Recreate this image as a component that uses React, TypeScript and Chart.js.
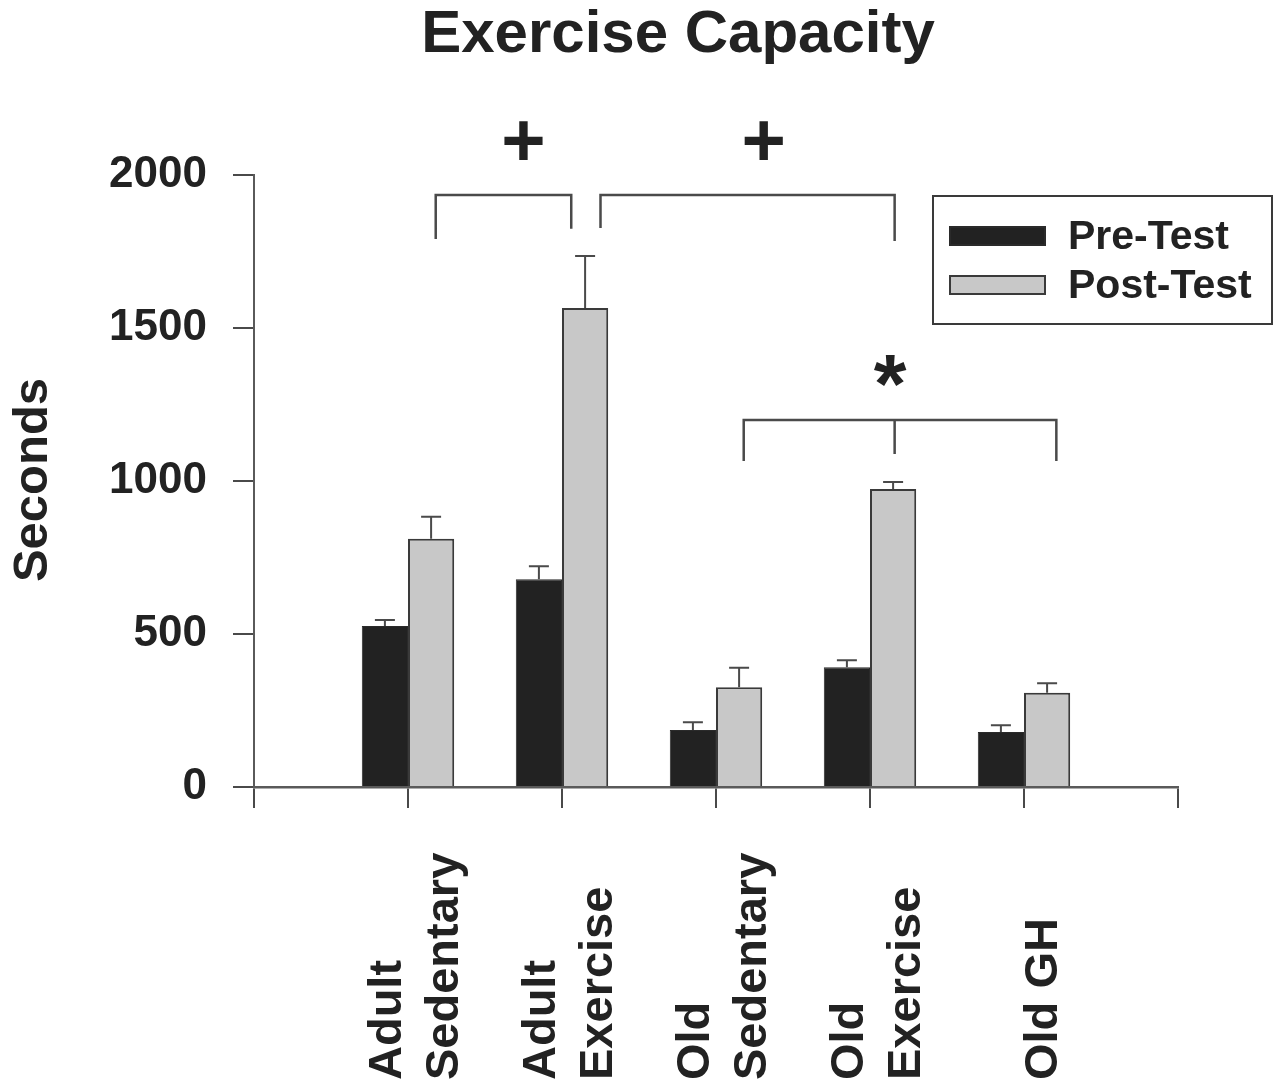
import React, { useEffect, useRef } from 'react';
import { Chart, registerables } from 'chart.js';

Chart.register(...registerables);

// ---- data ----
const categoryLabels: string[][] = [
  ['Adult', 'Sedentary'],
  ['Adult', 'Exercise'],
  ['Old', 'Sedentary'],
  ['Old', 'Exercise'],
  ['Old GH'],
];
const categoryPositions = [1, 2, 3, 4, 5];
const preTest = [526, 679, 186, 391, 180];
const preTestErr = [20, 42, 26, 23, 22];
const postTest = [811, 1565, 326, 974, 308];
const postTestErr = [72, 170, 64, 23, 31];
const yTickValues = [0, 500, 1000, 1500, 2000];
const yTickLabels = ['0', '500', '1000', '1500', '2000'];

// significance brackets (x in category units, y in seconds)
const brackets = [
  { x1: 1.18, x2: 2.06, top: 1935, y1: 1791, y2: 1824 },
  { x1: 2.25, x2: 4.16, top: 1935, y1: 1827, y2: 1784 },
];
const tripleBracket = { x1: 3.18, xm: 4.16, x2: 5.21, top: 1199, yEnd: 1065, yMid: 1088 };
const markers = [
  { text: '+', x: 1.75, y: 2114 },
  { text: '+', x: 3.31, y: 2114 },
  { text: '*', x: 4.13, y: 1359 },
];

const FONT = "'Liberation Sans', Arial, Helvetica, sans-serif";
const INK = '#222222';
const LINE = '#4a4a4a';

function centeredGlyph(ctx: CanvasRenderingContext2D, t: string, x: number, y: number) {
  const m = ctx.measureText(t);
  const asc = m.actualBoundingBoxAscent;
  const desc = m.actualBoundingBoxDescent;
  ctx.textAlign = 'center';
  ctx.textBaseline = 'alphabetic';
  ctx.fillText(t, x, y + (asc - desc) / 2);
}

const decorPlugin = {
  id: 'decor',
  afterDatasetsDraw(chart: any) {
    const ctx: CanvasRenderingContext2D = chart.ctx;
    const ys = chart.scales.y;
    const errs = [preTestErr, postTestErr];
    const vals = [preTest, postTest];
    ctx.save();
    ctx.strokeStyle = LINE;
    ctx.lineWidth = 2;
    chart.data.datasets.forEach((ds: any, di: number) => {
      const meta = chart.getDatasetMeta(di);
      meta.data.forEach((bar: any, i: number) => {
        const top = ys.getPixelForValue(vals[di][i] + errs[di][i]);
        ctx.beginPath();
        ctx.moveTo(bar.x, bar.y);
        ctx.lineTo(bar.x, top);
        ctx.moveTo(bar.x - 10, top);
        ctx.lineTo(bar.x + 10, top);
        ctx.stroke();
      });
    });
    ctx.restore();
  },
  afterDraw(chart: any) {
    const ctx: CanvasRenderingContext2D = chart.ctx;
    const xs = chart.scales.x;
    const ys = chart.scales.y;
    const px = (v: number) => xs.getPixelForValue(v);
    const py = (v: number) => ys.getPixelForValue(v);
    ctx.save();

    // title
    ctx.fillStyle = INK;
    ctx.font = `bold 60px ${FONT}`;
    ctx.textAlign = 'center';
    ctx.textBaseline = 'alphabetic';
    ctx.fillText('Exercise Capacity', 678, 52);

    // y axis title
    ctx.save();
    ctx.translate(47, 480);
    ctx.rotate(-Math.PI / 2);
    ctx.font = `bold 49px ${FONT}`;
    ctx.textAlign = 'center';
    ctx.textBaseline = 'alphabetic';
    ctx.fillText('Seconds', 0, 0);
    ctx.restore();

    // x category labels (rotated, reading bottom-to-top)
    ctx.font = `bold 47px ${FONT}`;
    categoryLabels.forEach((lines, i) => {
      const tx = px(categoryPositions[i]);
      const offs = lines.length === 2 ? [-7, 50] : [33];
      lines.forEach((ln, li) => {
        ctx.save();
        ctx.translate(tx + offs[li], 1080);
        ctx.rotate(-Math.PI / 2);
        ctx.textAlign = 'left';
        ctx.textBaseline = 'alphabetic';
        ctx.fillText(ln, 0, 0);
        ctx.restore();
      });
    });

    // brackets
    ctx.strokeStyle = LINE;
    ctx.lineWidth = 2.5;
    brackets.forEach((b) => {
      ctx.beginPath();
      ctx.moveTo(px(b.x1), py(b.y1));
      ctx.lineTo(px(b.x1), py(b.top));
      ctx.lineTo(px(b.x2), py(b.top));
      ctx.lineTo(px(b.x2), py(b.y2));
      ctx.stroke();
    });
    const t = tripleBracket;
    ctx.beginPath();
    ctx.moveTo(px(t.x1), py(t.yEnd));
    ctx.lineTo(px(t.x1), py(t.top));
    ctx.lineTo(px(t.x2), py(t.top));
    ctx.lineTo(px(t.x2), py(t.yEnd));
    ctx.moveTo(px(t.xm), py(t.top));
    ctx.lineTo(px(t.xm), py(t.yMid));
    ctx.stroke();

    // markers
    ctx.fillStyle = INK;
    markers.forEach((m) => {
      if (m.text === '+') {
        ctx.font = `bold 76px ${FONT}`;
      } else {
        ctx.font = `bold 84px ${FONT}`;
      }
      centeredGlyph(ctx, m.text, px(m.x), py(m.y));
    });

    // legend
    const lx = 933, ly = 196, lw = 339, lh = 128;
    ctx.strokeStyle = '#3a3a3a';
    ctx.lineWidth = 2;
    ctx.strokeRect(lx, ly, lw, lh);
    ctx.font = `bold 41px ${FONT}`;
    ctx.textAlign = 'left';
    ctx.textBaseline = 'alphabetic';
    chart.data.datasets.forEach((ds: any, di: number) => {
      const sy = 227 + di * 49;
      ctx.fillStyle = ds.backgroundColor;
      ctx.fillRect(950, sy, 95, 18);
      ctx.strokeStyle = ds.borderColor;
      ctx.lineWidth = 2;
      ctx.strokeRect(950, sy, 95, 18);
      ctx.fillStyle = INK;
      ctx.fillText(ds.label, 1068, 249 + di * 49);
    });

    ctx.restore();
  },
};

export default function App() {
  const ref = useRef<HTMLCanvasElement | null>(null);
  useEffect(() => {
    document.body.style.margin = '0';
    const canvas = ref.current;
    if (!canvas) return;
    const chart = new Chart(canvas, {
      type: 'bar',
      data: {
        datasets: [
          {
            label: 'Pre-Test',
            data: categoryPositions.map((p, i) => ({ x: p, y: preTest[i] })),
            backgroundColor: '#222222',
            borderColor: '#2a2a2a',
            borderWidth: 1,
          },
          {
            label: 'Post-Test',
            data: categoryPositions.map((p, i) => ({ x: p, y: postTest[i] })),
            backgroundColor: '#c8c8c8',
            borderColor: '#3a3a3a',
            borderWidth: 2,
          },
        ],
      } as any,
      options: {
        animation: false,
        responsive: false,
        maintainAspectRatio: false,
        layout: { padding: { top: 175, right: 99, left: 0, bottom: 0 } },
        datasets: { bar: { categoryPercentage: 0.6, barPercentage: 1.0 } },
        plugins: { legend: { display: false }, title: { display: false }, tooltip: { enabled: false } },
        scales: {
          x: {
            type: 'linear',
            min: 0,
            max: 6,
            offset: false,
            ticks: { stepSize: 1, display: false },
            grid: { offset: false, drawOnChartArea: false, drawTicks: true, tickLength: 21, color: LINE, lineWidth: 2 },
            border: { display: true, color: '#5a5a5a', width: 2.5 },
            afterFit: (s: any) => { s.height = 297; },
          },
          y: {
            type: 'linear',
            min: 0,
            max: 2000,
            afterBuildTicks: (s: any) => { s.ticks = yTickValues.map((v) => ({ value: v })); },
            ticks: {
              color: INK,
              padding: 26,
              font: { size: 44, weight: 'bold', family: FONT },
              callback: (v: any) => {
                const idx = yTickValues.indexOf(Number(v));
                return idx >= 0 ? yTickLabels[idx] : String(v);
              },
            },
            grid: { drawOnChartArea: false, drawTicks: true, tickLength: 21, color: LINE, lineWidth: 2 },
            border: { display: true, color: '#5a5a5a', width: 2 },
            afterFit: (s: any) => { s.width = 254; },
          },
        },
      } as any,
      plugins: [decorPlugin],
    });
    return () => chart.destroy();
  }, []);
  return <canvas ref={ref} width={1277} height={1084} style={{ display: 'block', width: 1277, height: 1084 }} />;
}
